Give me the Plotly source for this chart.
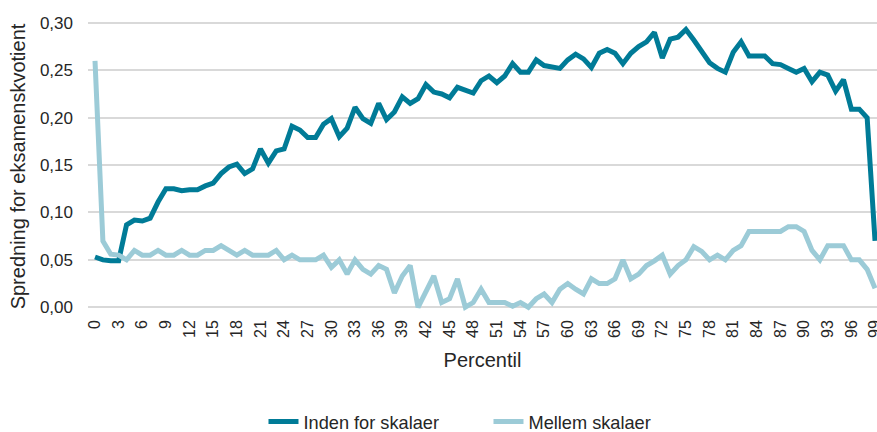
import plotly.graph_objects as go

percentil = list(range(100))

inden_for_skalaer = [
    0.053, 0.050, 0.049, 0.049, 0.087, 0.092, 0.091, 0.094, 0.111, 0.125,
    0.125, 0.123, 0.124, 0.124, 0.128, 0.131, 0.141, 0.148, 0.151, 0.141,
    0.146, 0.167, 0.152, 0.165, 0.167, 0.191, 0.187, 0.179, 0.179, 0.193,
    0.199, 0.180, 0.189, 0.211, 0.199, 0.194, 0.215, 0.198, 0.206, 0.222,
    0.215, 0.220, 0.235, 0.227, 0.225, 0.221, 0.232, 0.229, 0.226, 0.239,
    0.244, 0.237, 0.244, 0.257, 0.248, 0.248, 0.261, 0.255, 0.253, 0.252,
    0.261, 0.267, 0.262, 0.253, 0.268, 0.272, 0.268, 0.257, 0.268, 0.275,
    0.280, 0.290, 0.263, 0.283, 0.285, 0.293, 0.282, 0.270, 0.258, 0.252,
    0.248, 0.269, 0.280, 0.265, 0.265, 0.265, 0.257, 0.256, 0.252, 0.248,
    0.252, 0.238, 0.248, 0.245, 0.228, 0.240, 0.209, 0.209, 0.200, 0.070,
]

mellem_skalaer = [
    0.260, 0.070, 0.056, 0.055, 0.050, 0.060, 0.055, 0.055, 0.060, 0.055,
    0.055, 0.060, 0.055, 0.055, 0.060, 0.060, 0.065, 0.060, 0.055, 0.060,
    0.055, 0.055, 0.055, 0.060, 0.050, 0.055, 0.050, 0.050, 0.050, 0.055,
    0.042, 0.050, 0.035, 0.050, 0.040, 0.035, 0.044, 0.040, 0.015, 0.033,
    0.044, 0.000, 0.018, 0.033, 0.005, 0.009, 0.030, 0.000, 0.005, 0.019,
    0.005, 0.005, 0.005, 0.001, 0.005, 0.000, 0.009, 0.014, 0.005, 0.019,
    0.025, 0.019, 0.014, 0.030, 0.025, 0.025, 0.030, 0.050, 0.030, 0.035,
    0.044, 0.049, 0.055, 0.035, 0.044, 0.050, 0.064, 0.059, 0.050, 0.055,
    0.050, 0.060, 0.065, 0.080, 0.080, 0.080, 0.080, 0.080, 0.085, 0.085,
    0.080, 0.060, 0.050, 0.065, 0.065, 0.065, 0.050, 0.050, 0.040, 0.020,
]

tick_vals = list(range(0, 100, 3))
tick_text = [str(v) for v in tick_vals]
y_ticks = [0.0, 0.05, 0.10, 0.15, 0.20, 0.25, 0.30]

FONT = "Arial, Liberation Sans, sans-serif"
TEXT = "#262626"

fig = go.Figure()
fig.add_trace(go.Scatter(
    x=percentil, y=inden_for_skalaer, mode="lines", name="Inden for skalaer",
    line=dict(color="#007b97", width=5, shape="linear"),
))
fig.add_trace(go.Scatter(
    x=percentil, y=mellem_skalaer, mode="lines", name="Mellem skalaer",
    line=dict(color="#9ccbd7", width=5, shape="linear"),
))

fig.update_layout(
    width=877, height=432,
    margin=dict(l=88, r=0, t=20.6, b=120.3, autoexpand=False),
    paper_bgcolor="white", plot_bgcolor="white",
    separators=", ",
    font=dict(family=FONT, color=TEXT, size=16),
    showlegend=True,
    legend=dict(
        orientation="h", xref="container", yref="container",
        x=0.557, xanchor="center", y=0.024, yanchor="middle",
        font=dict(size=18.2, color=TEXT), entrywidth=180, entrywidthmode="pixels",
        bgcolor="rgba(0,0,0,0)",
    ),
)

fig.update_xaxes(
    range=[-0.89, 99.25], tickmode="array", tickvals=tick_vals, ticktext=tick_text,
    tickangle=-90, tickfont=dict(size=16, color=TEXT), showgrid=False,
    zeroline=False, showline=False, ticks="", ticklabelstandoff=4,
    ticklabeloverflow="allow",
    title=dict(text="Percentil", font=dict(size=20, color=TEXT), standoff=16),
)
fig.update_yaxes(
    range=[-0.005, 0.302], tickmode="array", tickvals=y_ticks, tickformat=".2f",
    tickfont=dict(size=17, color=TEXT), showgrid=True, gridcolor="#d9d9d9",
    gridwidth=1.5, zeroline=False, showline=False, ticks="", ticklabelstandoff=14,
    title=dict(text="Spredning for eksamenskvotient", font=dict(size=20, color=TEXT), standoff=8),
)

fig.write_html(
    "out.html",
    config={"displayModeBar": False},
    post_script="document.body.style.margin='0';document.body.style.padding='0';",
)
